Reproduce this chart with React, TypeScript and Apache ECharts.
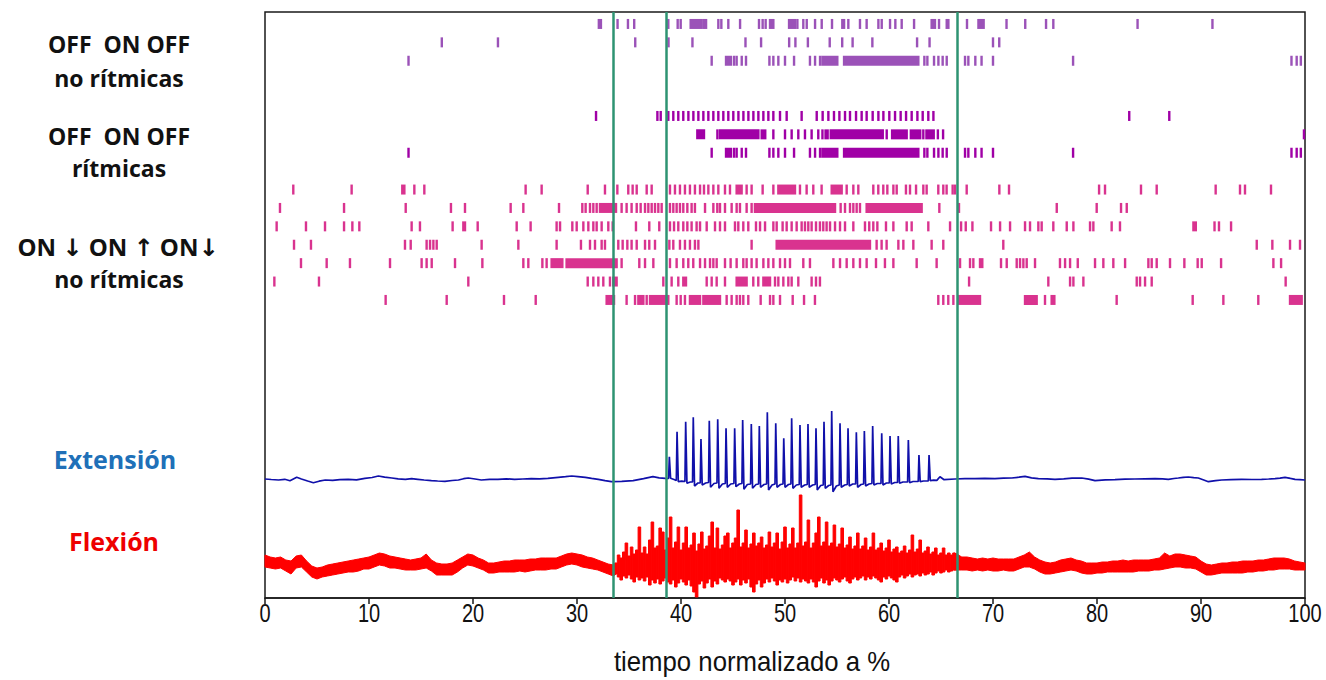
import { useEffect, useRef } from "react";
import * as echarts from "echarts";

// A spike is a single time (in % of the normalised cycle) or a dense run [from, to].
type Spike = number | [number, number];

// ---- Raster: OFF ON OFF, non-rhythmic units ----
const nrUnit1: Spike[] = [[32.1, 32.3], 33.9, 34.9, 35.5, 38.78, 39.68, 39.97, [40.93, 41.99], 42.21, 42.41, 43.59, 43.88, 44.55, 45.68, 47.5, 47.85, 48.14, [48.56, 48.88], [50.39, 50.96], 51.19, 51.76, 52.09, 52.89, 53.53, 54.52, [55.51, 55.68], 56.09, 57.21, 57.85, 58.98, 59.3, 60.1, 60.61, 61.22, 62.41, [64.1, 64.42], 64.81, [65.55, 65.71], 67.5, [68.6, 69.1], 71.3, 73.1, 75.1, 75.8, 83.9, 91.1];
const nrUnit2: Spike[] = [17.0, 22.4, 35.6, 38.8, 41.1, 46.2, 47.7, 50.4, 51.0, 52.2, 54.3, 55.5, 56.5, 58.4, 62.7, 63.9, 70.0, 70.6];
const nrUnit3: Spike[] = [13.8, 42.95, [44.33, 44.8], 45.1, 45.35, 45.84, 46.25, 48.5, 48.88, 49.36, 50.0, 50.87, 52.4, 52.89, 53.37, [53.6, 55.03], [55.68, 62.82], 63.4, 63.69, 64.33, 64.75, 65.16, 65.55, 67.31, 67.63, 68.3, 68.9, 70.0, 77.7, 98.7, 99.2, 99.6];

// ---- Raster: OFF ON OFF, rhythmic units ----
const rUnit1: Spike[] = [31.83, 37.73, 38.05, 38.78, 39.26, 39.74, 40.22, 40.71, 41.19, 41.67, 42.15, 42.63, 43.11, 43.59, 44.07, 44.55, 45.03, 45.52, 46.0, 46.48, 46.96, 47.44, 47.92, 48.4, 48.88, 49.52, 50.16, 51.6, 53.05, 53.62, 54.17, 54.71, 55.23, 55.77, 56.25, 56.83, 57.37, 57.85, 58.43, 58.98, 59.46, 60.03, 60.58, 61.12, 61.64, 62.18, 62.73, 63.24, 63.78, 64.27, 83.1, 86.95];
const rUnit2: Spike[] = [[41.57, 42.21], 43.5, [43.75, 47.44], [47.76, 48.1], 48.88, 50.0, 50.64, 51.28, 51.92, 52.56, 53.2, 53.6, [53.9, 54.1], [54.4, 59.4], 59.78, [60.3, 61.7], [62.1, 63.0], 63.3, [63.6, 64.3], 64.7, 65.2, 99.9];
// this unit repeats the spike train of nrUnit3
const rUnit3: Spike[] = nrUnit3;

// ---- Raster: ON ↓ ON ↑ ON ↓, non-rhythmic units ----
const mUnit1: Spike[] = [2.72, 8.33, [13.2, 13.4], 14.36, 15.32, 25.06, 26.6, 31.03, 32.69, 33.88, 34.93, 35.35, 35.74, 36.7, 37.18, 38.94, 39.42, 39.9, 40.38, 40.86, 41.34, 41.83, 42.21, 42.63, 43.11, 43.59, 44.23, 44.71, [45.35, 45.83], 46.31, 46.79, 47.85, 48.88, [49.36, 50.96], 51.44, 52.08, 52.72, 53.52, [54.49, 55.45], 55.93, 56.57, 57.05, 58.49, 58.97, 59.45, 59.84, 60.42, 60.74, 61.63, 62.02, 62.6, 63.3, 63.62, 64.74, 65.22, 65.54, 66.12, 66.35, 67.47, 70.61, 71.54, 80.2, 80.77, 84.23, 85.74, 91.41, 93.75, 94.23, 96.73];
const mUnit2: Spike[] = [1.44, 7.6, 13.53, 17.88, 19.23, 23.62, 24.84, 28.27, 30.51, 30.83, 31.25, 31.57, 31.89, [32.21, 33.75], 34.29, 34.77, 35.25, 35.74, 36.12, 36.54, 36.86, 37.18, 37.5, 37.82, 38.14, 38.94, 39.26, 39.58, 39.9, 40.22, 40.61, 41.02, 41.34, 42.31, 43.11, 43.49, 43.75, 44.23, 44.87, 45.35, 45.67, 46.31, 46.79, [47.11, 54.81], 55.35, 55.77, 56.25, 56.57, 56.89, 57.21, [57.85, 63.14], 64.84, 66.73, 76.13, 79.97, 82.31, 82.86];
const mUnit3: Spike[] = [1.12, 3.94, 5.77, 7.6, 8.4, 9.07, 14.1, 14.9, 18.04, [19.07, 19.23], 20.45, 24.2, 25.54, 28.04, 28.37, 29.55, 29.97, 30.61, 31.09, 31.57, 31.89, 32.37, 33.01, 33.43, 35.67, 36.95, 37.91, 38.94, 39.33, 39.74, 40.22, 40.61, 41.02, 41.5, 41.83, 42.47, 43.27, 43.75, 44.23, 45.19, 45.51, 45.99, 46.47, 47.21, 47.6, 48.08, 48.88, 49.2, 49.77, 50.16, 50.64, 51.12, 51.6, 51.92, 52.24, 52.56, 52.98, 53.36, 53.68, 54.0, 54.33, 54.81, 55.29, 55.77, 56.57, 57.69, 58.1, 58.49, 58.88, 59.71, 60.42, 61.7, 62.18, 63.78, 65.87, 66.93, 67.38, 68.02, 69.81, 70.68, 71.64, 73.08, 73.56, 74.36, 74.68, 75.8, 77.09, 77.73, 79.33, 79.65, 81.41, 82.21, [89.27, 89.5], 91.3, 91.73, 92.89];
const mUnit4: Spike[] = [2.79, 4.42, 13.46, 14.01, 15.54, 15.87, 16.19, 16.51, 20.83, 24.36, 28.04, 30.38, 31.25, 31.73, 32.37, 32.69, 33.97, 34.39, 34.84, 35.25, 35.74, 36.54, 36.95, 37.5, 38.88, 39.26, 39.9, 40.38, 40.86, 41.34, 41.67, 46.79, [49.2, 58.17], 58.81, 59.29, 59.77, 60.9, 61.38, 62.34, 64.1, 65.22, 70.99, 95.36, 96.86, 98.56, 99.52];
const mUnit5: Spike[] = [3.46, 5.93, 8.17, 12.02, 15.06, 15.54, 16.03, 18.27, 20.9, 24.84, 25.32, 26.67, 27.08, [27.56, 28.59], [29.0, 33.81], 34.29, 35.99, 36.54, 37.34, 38.94, 39.58, 40.22, 40.7, 41.18, 41.83, 42.31, 42.79, 43.11, 43.43, 44.23, 44.77, 45.35, 45.99, 46.31, 46.79, 47.27, 47.92, 48.4, 48.88, 49.52, 50.0, 50.48, 51.76, 52.4, 54.65, 55.29, 55.93, 56.57, 57.21, 57.85, 58.75, 59.61, 60.42, 62.66, 64.58, 66.83, 67.79, 68.11, [68.75, 68.97], 70.77, 71.32, 72.28, 72.6, 72.92, 73.24, 74.04, 76.44, 76.93, 77.41, 78.15, 79.81, 80.61, 81.57, 82.7, 84.94, 85.26, 85.74, 87.02, 88.4, 89.68, 90.07, 91.93, 96.96, 97.7];
const mUnit6: Spike[] = [0.9, 5.19, 19.55, 31.03, 31.57, 32.05, 32.53, 33.17, [33.49, 33.81], 38.3, 39.1, 39.74, [40.22, 40.48], 42.47, 42.95, 43.43, 44.23, [45.35, 46.31], 46.95, 47.43, [47.92, 48.56], 49.04, 49.36, 49.84, 50.32, 50.64, 51.28, 52.56, 52.98, 53.36, 67.7, 75.32, 77.41, 77.73, 78.69, 83.82, 84.14, 84.62, 85.26, 98.14];
const mUnit7: Spike[] = [11.6, 17.47, 22.98, 26.03, [32.85, 33.56], 34.77, 35.58, [35.9, 36.38], 36.7, [37.02, 38.78], 39.58, 39.97, 40.38, [40.86, 41.83], [42.15, 43.75], 44.39, 44.87, 45.35, 45.67, 45.99, 46.47, 47.66, 48.56, 48.88, 49.52, 50.74, 51.83, 52.88, 64.74, 65.22, 65.7, 66.19, [66.67, 68.75], [73.08, 74.2], 75.0, [75.64, 75.9], 81.89, 89.2, 92.15, 95.51, [98.56, 99.68]];

// Row slots on the raster axis (empty slots separate the groups)
const nrSlots = [0, 1, 2];
const rSlots = [5, 6, 7];
const mSlots = [9, 10, 11, 12, 13, 14, 15];

// Phase boundaries (% of cycle)
const phaseBoundaries = [33.5, 38.6, 66.6];

// x-axis tick labels
const xTicks = [0, 10, 20, 30, 40, 50, 60, 70, 80, 90, 100];

// ---- Extension ENG trace: [time %, amplitude] ----
const extension: [number, number][] = [
  [0, 119], [0.6, 118.5], [1.3, 118], [1.9, 118.7], [2.4, 117.3], [3.05, 120.7], [3.5, 119], [4.1, 117], [4.65, 115.3], [5.2, 116.8], [5.8, 118], [6.5, 117.6], [7.2, 118.3], [8.0, 118.7], [8.8, 118.2], [9.6, 119.7], [10.3, 120.5], [10.9, 122], [11.5, 120.8], [12.2, 120], [12.8, 119.2], [13.5, 118.7], [14.1, 119.4], [14.7, 118.7], [15.3, 118], [16.0, 117.3], [16.6, 117], [17.3, 116.7], [18.0, 117.5], [18.6, 118], [19.1, 119.3], [19.55, 120], [20.2, 119], [20.8, 118], [21.6, 118.6], [22.4, 118.7], [23.2, 119.2], [24.0, 118.7], [24.8, 119], [25.6, 119.3], [26.4, 119.1], [27.2, 119.7], [28.2, 120.7], [28.9, 121.3], [29.5, 122], [30.1, 121.4], [30.8, 120.7], [31.4, 119.6], [32.05, 118.7], [32.7, 117.4], [33.3, 116.3], [34.3, 116.7], [35.4, 117.3], [36.4, 119.3], [37.3, 121.3], [37.9, 120.2], [38.5, 119.7],
  [38.81, 119.5], [38.88, 141.3], [39.0, 119.7], [39.33, 118.5],
  [39.55, 117.5], [39.62, 166.3], [39.74, 116.3], [40.07, 116.8],
  [40.38, 116.5], [40.45, 176.3], [40.57, 114.7], [40.9, 116],
  [41.11, 116], [41.18, 180.7], [41.3, 112], [41.63, 115],
  [41.85, 115], [41.92, 159], [42.04, 113], [42.37, 115],
  [42.65, 115.5], [42.72, 177.3], [42.84, 110.7], [43.17, 114.5],
  [43.46, 115], [43.53, 178.7], [43.65, 109.7], [43.98, 114],
  [44.26, 114.5], [44.33, 169.7], [44.45, 110.7], [44.78, 114],
  [45.09, 114.5], [45.16, 169.7], [45.28, 111.3], [45.61, 114],
  [45.86, 114.5], [45.93, 178], [46.05, 108.7], [46.38, 113.5],
  [46.69, 114], [46.76, 174], [46.88, 109.7], [47.21, 113.5],
  [47.46, 114], [47.53, 172], [47.65, 110.7], [47.98, 113.5],
  [48.23, 114], [48.3, 185.7], [48.42, 108], [48.75, 113],
  [49.04, 114], [49.11, 174.7], [49.23, 110.7], [49.56, 113.5],
  [49.81, 114], [49.88, 159.7], [50.0, 110.7], [50.33, 113.5],
  [50.57, 114], [50.64, 179.7], [50.76, 109.7], [51.09, 113],
  [51.37, 113.5], [51.44, 173], [51.56, 110.7], [51.89, 113],
  [52.14, 113.5], [52.21, 174], [52.33, 110.7], [52.66, 113],
  [52.91, 113.5], [52.98, 169.7], [53.1, 108], [53.43, 112.5],
  [53.68, 113], [53.75, 176.3], [53.87, 109.7], [54.2, 112.5],
  [54.42, 113], [54.49, 187], [54.61, 106.3], [54.94, 112],
  [55.22, 113], [55.29, 174.7], [55.41, 110.7], [55.74, 113],
  [55.99, 113.5], [56.06, 169.7], [56.18, 112], [56.51, 114],
  [56.79, 114], [56.86, 165.7], [56.98, 110.7], [57.31, 113.5],
  [57.56, 114], [57.63, 167], [57.75, 112], [58.08, 114],
  [58.36, 114.5], [58.43, 172], [58.55, 113], [58.88, 114.5],
  [59.23, 114.5], [59.3, 164.7], [59.42, 113], [59.75, 115],
  [60.03, 115], [60.1, 162], [60.22, 114], [60.55, 115.5],
  [60.82, 115.5], [60.89, 162], [61.01, 114.7], [61.34, 116],
  [61.79, 116], [61.86, 158], [61.98, 115.3], [62.31, 116.5],
  [62.81, 116.5], [62.88, 143], [63.0, 116.3], [63.33, 117],
  [63.78, 117], [63.85, 143], [63.97, 117.3], [64.3, 117.8],
  [64.6, 117.6], [64.9, 121.3], [65.3, 118.3], [66.35, 119], [67.3, 119.3], [68.27, 119.3], [69.2, 119.6], [70.19, 119.3], [71.0, 119.9], [71.8, 120], [72.5, 120.8], [73.08, 121.7], [73.7, 120.2], [74.36, 119.3], [75.2, 119.2], [75.96, 118.7], [76.8, 119.2], [77.6, 119.8], [78.53, 120], [79.2, 118.8], [79.81, 117.3], [80.8, 118.1], [81.73, 118.3], [82.7, 118.9], [83.65, 119], [84.6, 119.2], [85.58, 119.3], [86.3, 119.1], [86.86, 118.7], [87.4, 119.5], [87.82, 120], [88.3, 120.7], [88.78, 121], [89.3, 120.3], [89.74, 120], [90.2, 118.3], [90.71, 116.3], [91.4, 117.3], [91.99, 118], [92.9, 118.4], [93.91, 118.7], [94.9, 118.5], [95.83, 118.7], [96.5, 119], [97.12, 119.3], [97.6, 119.8], [98.08, 120.7], [98.6, 119.6], [99.04, 118.7], [99.5, 118.4], [100, 118],
];

// ---- Flexion ENG trace envelope: [time %, lower, upper] ----
const flexion: [number, number, number][] = [
  [0.0, 31, 43], [0.5, 30, 41], [1.0, 29, 40], [1.5, 30, 41], [2.0, 27, 38], [2.5, 24, 37], [3.0, 30, 42], [3.5, 31, 43], [4.0, 26, 37], [4.5, 21, 32], [5.0, 19, 30], [5.5, 21, 31], [6.0, 22, 33], [6.5, 23, 34], [7.0, 24, 35], [7.5, 25, 36], [8.0, 26, 37], [8.5, 26, 38], [9.0, 27, 39], [9.5, 29, 40], [10.0, 29, 41], [10.5, 31, 43], [11.0, 33, 45], [11.5, 32, 44], [12.0, 30, 42], [12.5, 30, 41], [13.0, 29, 40], [13.5, 28, 39], [14.0, 28, 38], [14.5, 28, 39], [15.0, 29, 40], [15.5, 30, 44], [16.0, 27, 38], [16.5, 23, 35], [17.0, 23, 34], [17.5, 23, 34], [18.0, 23, 35], [18.5, 26, 38], [19.0, 30, 41], [19.5, 33, 44], [20.0, 32, 43], [20.5, 30, 40], [21.0, 28, 38], [21.5, 25, 35], [22.0, 25, 35], [22.5, 26, 36], [23.0, 26, 37], [23.5, 26, 37], [24.0, 26, 38], [24.5, 27, 38], [25.0, 26, 38], [25.5, 27, 39], [26.0, 28, 39], [26.5, 28, 40], [27.0, 28, 40], [27.5, 29, 40], [28.0, 29, 40], [28.5, 31, 42], [29.0, 33, 44], [29.5, 34, 45], [30.0, 33, 44], [30.5, 31, 43], [31.0, 30, 41], [31.5, 29, 40], [32.0, 28, 38], [32.5, 26, 36], [33.0, 24, 34], [33.5, 22, 33],
  [33.75, 24, 35], [34.0, 21, 43], [34.25, 18, 40], [34.5, 22, 46], [34.75, 20, 55], [35.0, 23, 42], [35.25, 19, 51], [35.5, 16, 44], [35.75, 21, 48], [36.0, 18, 71], [36.25, 20, 45], [36.5, 17, 51], [36.75, 21, 44], [37.0, 13, 58], [37.25, 18, 76], [37.5, 15, 50], [37.75, 19, 52], [38.0, 14, 70], [38.25, 17, 66], [38.5, 20, 48], [38.75, 16, 60], [39.0, 14, 81], [39.25, 18, 50], [39.5, 11, 56], [39.75, 15, 71], [40.0, 19, 48], [40.25, 16, 55], [40.5, 13, 71], [40.75, 18, 50], [41.0, 12, 53], [41.25, 6, 65], [41.5, 1, 47], [41.75, 14, 54], [42.0, 17, 66], [42.25, 10, 49], [42.5, 15, 52], [42.75, 19, 62], [43.0, 11, 76], [43.25, 17, 50], [43.5, 14, 70], [43.75, 20, 49], [44.0, 18, 53], [44.25, 16, 62], [44.5, 19, 65], [44.75, 17, 50], [45.0, 13, 55], [45.25, 16, 60], [45.5, 19, 88], [45.75, 13, 51], [46.0, 18, 55], [46.25, 15, 68], [46.5, 19, 50], [46.75, 11, 54], [47.0, 6, 65], [47.25, 14, 52], [47.5, 18, 55], [47.75, 11, 61], [48.0, 15, 50], [48.25, 19, 53], [48.5, 16, 66], [48.75, 20, 51], [49.0, 17, 55], [49.25, 13, 65], [49.5, 18, 49], [49.75, 16, 56], [50.0, 19, 71], [50.25, 15, 50], [50.5, 18, 54], [50.75, 21, 70], [51.0, 17, 50], [51.25, 20, 55], [51.5, 16, 103], [51.75, 19, 52], [52.0, 17, 56], [52.25, 15, 78], [52.5, 19, 50], [52.75, 16, 55], [53.0, 11, 65], [53.25, 17, 81], [53.5, 20, 52], [53.75, 15, 56], [54.0, 18, 76], [54.25, 13, 52], [54.5, 17, 55], [54.75, 20, 73], [55.0, 18, 51], [55.25, 16, 54], [55.5, 19, 70], [55.75, 21, 50], [56.0, 17, 53], [56.25, 15, 61], [56.5, 19, 49], [56.75, 21, 52], [57.0, 18, 65], [57.25, 20, 49], [57.5, 22, 52], [57.75, 18, 60], [58.0, 21, 48], [58.25, 19, 51], [58.5, 22, 65], [58.75, 20, 48], [59.0, 18, 50], [59.25, 16, 55], [59.5, 21, 47], [59.75, 19, 50], [60.0, 22, 58], [60.25, 20, 46], [60.5, 18, 49], [60.75, 16, 51], [61.0, 21, 45], [61.25, 23, 47], [61.5, 20, 52], [61.75, 22, 45], [62.0, 24, 48], [62.25, 21, 63], [62.5, 23, 46], [62.75, 24, 49], [63.0, 22, 58], [63.25, 25, 45], [63.5, 23, 47], [63.75, 24, 51], [64.0, 26, 44], [64.25, 23, 46], [64.5, 25, 50], [64.75, 27, 43], [65.0, 25, 45], [65.25, 26, 50], [65.5, 28, 43], [65.75, 26, 45], [66.0, 27, 43], [66.25, 28, 45],
  [66.5, 28, 44], [67.0, 28, 41], [67.5, 28, 41], [68.0, 27, 40], [68.5, 28, 39], [69.0, 27, 40], [69.5, 28, 39], [70.0, 27, 40], [70.5, 27, 39], [71.0, 28, 39], [71.5, 27, 39], [72.0, 27, 39], [72.5, 29, 41], [73.0, 31, 43], [73.5, 31, 46], [74.0, 29, 41], [74.5, 26, 38], [75.0, 24, 36], [75.5, 24, 35], [76.0, 25, 36], [76.5, 26, 38], [77.0, 27, 39], [77.5, 28, 40], [78.0, 27, 38], [78.5, 25, 37], [79.0, 24, 35], [79.5, 24, 35], [80.0, 25, 35], [80.5, 25, 36], [81.0, 26, 36], [81.5, 26, 37], [82.0, 26, 37], [82.5, 26, 38], [83.0, 26, 37], [83.5, 26, 38], [84.0, 27, 38], [84.5, 27, 38], [85.0, 27, 38], [85.5, 28, 39], [86.0, 28, 40], [86.5, 29, 45], [87.0, 30, 42], [87.5, 31, 44], [88.0, 31, 44], [88.5, 30, 43], [89.0, 30, 42], [89.5, 29, 41], [90.0, 26, 37], [90.5, 23, 34], [91.0, 23, 33], [91.5, 24, 34], [92.0, 25, 35], [92.5, 25, 35], [93.0, 25, 36], [93.5, 25, 36], [94.0, 25, 37], [94.5, 26, 37], [95.0, 26, 37], [95.5, 27, 38], [96.0, 27, 38], [96.5, 28, 39], [97.0, 28, 40], [97.5, 29, 40], [98.0, 29, 40], [98.5, 29, 39], [99.0, 28, 37], [99.5, 28, 36], [100.0, 28, 35],
];

const COLORS = {
  nonRhythmic: "#9b52b8",
  rhythmic: "#a000a6",
  mixed: "#d9338f",
  extension: "#1010aa",
  flexion: "#ff0000",
  phase: "#2e9372",
  axis: "#1a1a1a",
};

const NARROW_FONT = "'Liberation Sans', Arial, sans-serif";

function rasterSeries(rows: Spike[][], slots: number[], color: string) {
  const data: number[][] = [];
  rows.forEach((row, i) => {
    row.forEach((s) => {
      const [a, b] = Array.isArray(s) ? s : [s, s];
      data.push([a, b, slots[i]]);
    });
  });
  return {
    type: "custom",
    xAxisIndex: 0,
    yAxisIndex: 0,
    silent: true,
    z: 2,
    data,
    encode: { x: [0, 1], y: 2 },
    renderItem: (_params: any, api: any) => {
      const p0 = api.coord([api.value(0), api.value(2)]);
      const p1 = api.coord([api.value(1), api.value(2)]);
      return {
        type: "rect",
        shape: { x: p0[0] - 1.2, y: p0[1] - 5, width: p1[0] - p0[0] + 2.4, height: 10 },
        style: { fill: color },
      };
    },
  };
}

function sideLabel(text: string, x: number, y: number, size: number, fill = "#111") {
  return {
    type: "text",
    x,
    y,
    silent: true,
    style: {
      text,
      align: "center",
      verticalAlign: "middle",
      font: `bold ${size}px 'Open Sans', 'DejaVu Sans', sans-serif`,
      fill,
    },
  };
}

export default function App() {
  const ref = useRef<HTMLDivElement>(null);

  useEffect(() => {
    if (!ref.current) return;
    const chart = echarts.init(ref.current, undefined, { renderer: "svg" });

    const burstStart = phaseBoundaries[0];
    const burstEnd = phaseBoundaries[2];
    // smooth outer parts of the flexion band are drawn as polygons
    const leftBand = flexion.filter((r) => r[0] <= burstStart + 0.3);
    const rightBand = flexion.filter((r) => r[0] >= burstEnd - 0.4);

    const option = {
      animation: false,
      backgroundColor: "#ffffff",
      grid: {
        left: 265,
        right: 21,
        top: 12,
        bottom: 82,
        show: true,
        borderColor: COLORS.axis,
        borderWidth: 1.5,
        backgroundColor: "transparent",
      },
      xAxis: {
        type: "value",
        min: 0,
        max: 100,
        interval: 10,
        axisLine: { show: true, onZero: false, lineStyle: { color: COLORS.axis, width: 1.5 } },
        axisTick: { show: true, length: 6, lineStyle: { color: COLORS.axis, width: 1.5 } },
        axisLabel: { show: false },
        splitLine: { show: false },
      },
      yAxis: [
        { type: "value", min: -0.65, max: 31.2, inverse: true, show: false },
        { type: "value", min: 0, max: 586, show: false },
      ],
      series: [
        rasterSeries([nrUnit1, nrUnit2, nrUnit3], nrSlots, COLORS.nonRhythmic),
        rasterSeries([rUnit1, rUnit2, rUnit3], rSlots, COLORS.rhythmic),
        rasterSeries([mUnit1, mUnit2, mUnit3, mUnit4, mUnit5, mUnit6, mUnit7], mSlots, COLORS.mixed),
        {
          // flexion: outer band as polygons, burst samples as thin columns (lower → upper)
          type: "custom",
          xAxisIndex: 0,
          yAxisIndex: 1,
          silent: true,
          z: 2,
          data: flexion,
          encode: { x: 0, y: [1, 2] },
          renderItem: (params: any, api: any) => {
            const i = params.dataIndex;
            const x = api.value(0);
            const style = { fill: COLORS.flexion, stroke: COLORS.flexion, lineWidth: 1 };
            if (i === 0) {
              const band = (rows: [number, number, number][]) =>
                rows
                  .map((r) => api.coord([r[0], r[2]]))
                  .concat(rows.slice().reverse().map((r) => api.coord([r[0], r[1]])));
              return {
                type: "group",
                children: [
                  { type: "polygon", shape: { points: band(leftBand) }, style },
                  { type: "polygon", shape: { points: band(rightBand) }, style },
                ],
              };
            }
            if (x <= burstStart || x >= burstEnd) return null;
            const top = api.coord([x, api.value(2)]);
            const bottom = api.coord([x, api.value(1)]);
            return {
              type: "rect",
              shape: { x: top[0] - 1.3, y: top[1], width: 2.6, height: bottom[1] - top[1] },
              style,
            };
          },
        },
        {
          type: "line",
          xAxisIndex: 0,
          yAxisIndex: 1,
          data: extension,
          showSymbol: false,
          symbol: "none",
          silent: true,
          z: 3,
          lineStyle: { color: COLORS.extension, width: 1.7 },
          markLine: {
            silent: true,
            symbol: ["none", "none"],
            label: { show: false },
            lineStyle: { color: COLORS.phase, width: 2.5, type: "solid" },
            data: phaseBoundaries.map((v) => ({ xAxis: v })),
          },
        },
        {
          // x tick labels in a condensed face, placed through the x scale
          type: "custom",
          xAxisIndex: 0,
          yAxisIndex: 1,
          silent: true,
          clip: false,
          data: xTicks.map((t) => [t, 0]),
          encode: { x: 0, y: 1 },
          renderItem: (_params: any, api: any) => {
            const p = api.coord([api.value(0), api.value(1)]);
            return {
              type: "text",
              x: p[0],
              y: p[1] + 16,
              scaleX: 0.8,
              style: {
                text: String(api.value(0)),
                x: 0,
                y: 0,
                align: "center",
                verticalAlign: "middle",
                font: `25px ${NARROW_FONT}`,
                fill: "#111",
              },
            };
          },
        },
      ],
      graphic: [
        sideLabel("OFF  ON OFF", 119, 44, 23),
        sideLabel("no rítmicas", 119, 78, 23),
        sideLabel("OFF  ON OFF", 119, 136, 23),
        sideLabel("rítmicas", 119, 168, 23),
        sideLabel("ON ↓ ON ↑ ON↓", 118, 246, 24),
        sideLabel("no rítmicas", 119, 279, 23),
        sideLabel("Extensión", 115, 459, 25, "#2070b8"),
        sideLabel("Flexión", 114, 541, 25, "#ee0000"),
        {
          type: "text",
          x: 752,
          y: 662,
          scaleX: 0.92,
          silent: true,
          style: {
            text: "tiempo normalizado a %",
            x: 0,
            y: 0,
            align: "center",
            verticalAlign: "middle",
            font: `28px ${NARROW_FONT}`,
            fill: "#111",
          },
        },
      ],
    };
    chart.setOption(option as any);
    return () => chart.dispose();
  }, []);

  return (
    <div
      ref={ref}
      style={{ position: "absolute", left: 0, top: 0, width: 1326, height: 680, background: "#fff" }}
    />
  );
}
